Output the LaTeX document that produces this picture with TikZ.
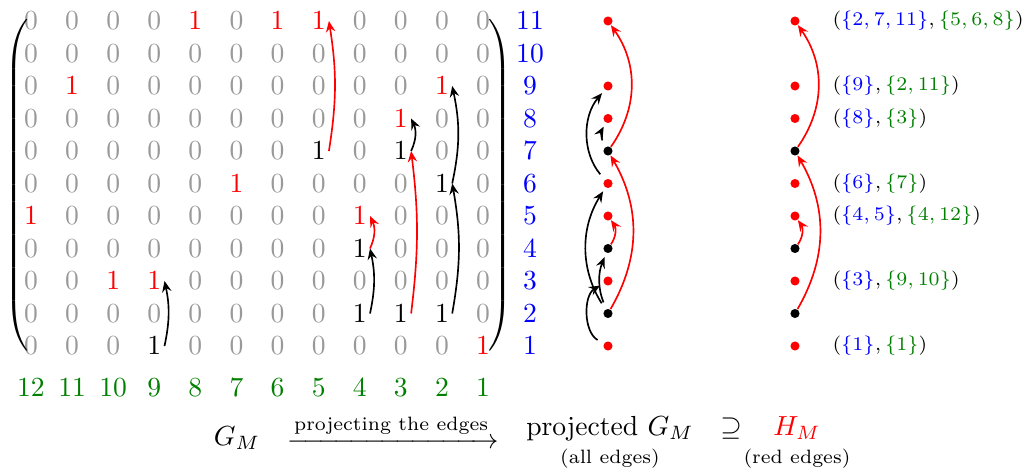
\documentclass[tikz,border=0pt]{standalone}
\usepackage{amsmath}
\usetikzlibrary{arrows.meta}
\definecolor{zc}{gray}{0.6}
\colorlet{gc}{green!50!black}
\begin{document}
\begin{tikzpicture}[x=0.3623pt,y=-0.3623pt,
  cell/.style={inner sep=1pt},
  z cell/.style={text=zc,node contents={$0$}},
  r cell/.style={text=red,node contents={$1$}},
  b cell/.style={text=black,node contents={$1$}},
  dotr/.style={circle,fill=red,inner sep=0pt,minimum size=3.3pt},
  dotb/.style={circle,fill=black,inner sep=0pt,minimum size=3.3pt},
  arr/.style={line width=0.6pt,-{Stealth[length=4pt,width=3.4pt,inset=1.4pt]}},
  barr/.style={arr,black,shorten <=2.5pt,shorten >=1.5pt},
  lab/.style={anchor=west,inner sep=0pt,font=\scriptsize},
  txt/.style={anchor=base,inner sep=0pt}
]
\useasboundingbox (0,0) rectangle (1026,472);

% matrix entries
\foreach \r/\lst in {
  11/{z,z,z,z,r,z,r,r,z,z,z,z},
  10/{z,z,z,z,z,z,z,z,z,z,z,z},
  9/{z,r,z,z,z,z,z,z,z,z,r,z},
  8/{z,z,z,z,z,z,z,z,z,r,z,z},
  7/{z,z,z,z,z,z,z,b,z,b,z,z},
  6/{z,z,z,z,z,r,z,z,z,z,b,z},
  5/{r,z,z,z,z,z,z,z,r,z,z,z},
  4/{z,z,z,z,z,z,z,z,b,z,z,z},
  3/{z,z,r,r,z,z,z,z,z,z,z,z},
  2/{z,z,z,z,z,z,z,z,b,b,b,z},
  1/{z,z,z,b,z,z,z,z,z,z,z,r}}{
  \foreach \e [count=\i] in \lst {
    \pgfmathtruncatemacro{\c}{13-\i}
    \node (m-\r-\c) at ({31+(\i-1)*41.1},{21+(11-\r)*32.5}) [cell,\e\space cell];
  }
}

% delimiters
\node[inner sep=0pt] (lp) at (18,185.5) {$\left(\vcenter{\hrule height 121pt width 0pt}\right.$};
\node[inner sep=0pt] (rp) at (499,185.5) {$\left.\vcenter{\hrule height 121pt width 0pt}\right)$};

% row and column labels
\foreach \r in {1,...,11}
  \node[text=blue] (rl-\r) at (530,{21+(11-\r)*32.5}) {$\r$};
\foreach \c in {1,...,12}
  \node[text=gc] (cl-\c) at ({31+(12-\c)*41.1},388) {$\c$};

% matrix arrows
\draw[arr,black] (m-1-9.east) to[bend right=12] (m-3-9.east);
\draw[arr,red]   (m-7-5.east) to[bend right=9] (m-11-5.east);
\draw[arr,black] (m-2-4.east) to[bend right=12] (m-4-4.east);
\draw[arr,red]   (m-4-4.east) to[bend right=25] (m-5-4.east);
\draw[arr,red]   (m-2-3.east) to[bend right=7] (m-7-3.east);
\draw[arr,black] (m-7-3.east) to[bend right=25] (m-8-3.east);
\draw[arr,black] (m-2-2.east) to[bend right=10] (m-6-2.east);
\draw[arr,black] (m-6-2.east) to[bend right=12] (m-9-2.east);

% graph vertices
\foreach \r/\s in {1/r,2/b,3/r,4/b,5/r,6/r,7/b,8/r,9/r,11/r}{
  \node[dot\s] (g-\r) at (608,{21+(11-\r)*32.5}) {};
  \node[dot\s] (h-\r) at (795,{21+(11-\r)*32.5}) {};
}

% projected G_M edges
\draw[barr] (g-1) to[bend left=60] (g-3);
\draw[barr] (g-2) to[bend left=22] (g-4);
\draw[barr] (g-2) to[bend left=32] (g-6);
\draw[barr] (g-6) to[bend left=40] (g-9);
\draw[barr] (g-7) to[bend left=28] (g-8);
\draw[arr,red] (g-2) to[bend right=30] (g-7);
\draw[arr,red] (g-7) to[bend right=35] (g-11);
\draw[arr,red] (g-4) to[bend right=35] (g-5);

% H_M edges
\draw[arr,red] (h-2) to[bend right=30] (h-7);
\draw[arr,red] (h-7) to[bend right=35] (h-11);
\draw[arr,red] (h-4) to[bend right=35] (h-5);

% right labels
\node[lab] (l-11) at (832,{21+0*32.5}) {$(\textcolor{blue}{\{2,7,11\}},\textcolor{gc}{\{5,6,8\}})$};
\node[lab] (l-9) at (832,{21+2*32.5}) {$(\textcolor{blue}{\{9\}},\textcolor{gc}{\{2,11\}})$};
\node[lab] (l-8) at (832,{21+3*32.5}) {$(\textcolor{blue}{\{8\}},\textcolor{gc}{\{3\}})$};
\node[lab] (l-6) at (832,{21+5*32.5}) {$(\textcolor{blue}{\{6\}},\textcolor{gc}{\{7\}})$};
\node[lab] (l-5) at (832,{21+6*32.5}) {$(\textcolor{blue}{\{4,5\}},\textcolor{gc}{\{4,12\}})$};
\node[lab] (l-3) at (832,{21+8*32.5}) {$(\textcolor{blue}{\{3\}},\textcolor{gc}{\{9,10\}})$};
\node[lab] (l-1) at (832,{21+10*32.5}) {$(\textcolor{blue}{\{1\}},\textcolor{gc}{\{1\}})$};

% bottom line
\node[txt] (gm) at (237,445) {$G_M$};
\node[txt] (proj) at (393,448) {$\xrightarrow{\text{projecting the edges}}$};
\node[txt] (pg) at (610,435) {projected $G_M$};
\node[txt] (ae) at (610,463) {\scriptsize (all edges)};
\node[txt] (sup) at (731,435) {$\supseteq$};
\node[txt,text=red] (hm) at (797,435) {$H_M$};
\node[txt] (re) at (797,463) {\scriptsize (red edges)};
\end{tikzpicture}
\end{document}
